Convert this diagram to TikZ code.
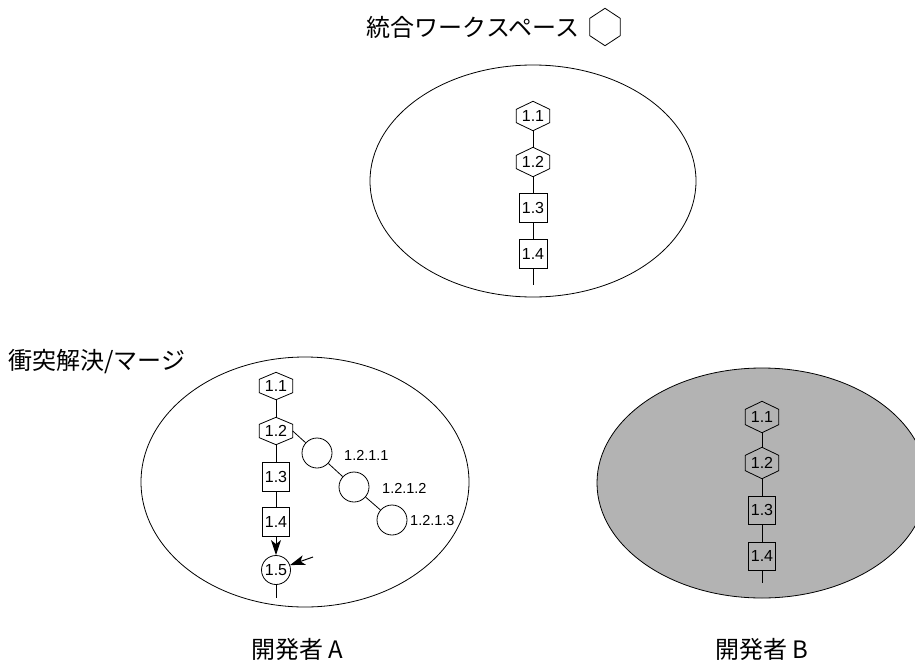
\documentclass[tikz,border=0pt]{standalone}
\usepackage{fontspec}
\setmainfont{Liberation Sans}
\newfontfamily\jpfont{Noto Sans CJK JP}
\usetikzlibrary{arrows.meta,shapes.geometric}
\definecolor{bgray}{RGB}{179,179,179}
\tikzset{
  ws/.style={ellipse, draw=black, line width=0.8pt, inner sep=0pt},
  numfont/.style={font=\fontsize{16}{16}\selectfont},
  hexbox/.style={rectangle, inner sep=0pt, minimum width=33pt, minimum height=29pt, numfont},
  sqbox/.style={rectangle, draw, line width=0.8pt, inner sep=0pt, minimum width=28pt, minimum height=29pt, numfont},
  circnode/.style={circle, draw, line width=0.8pt, inner sep=0pt, minimum size=30pt, numfont},
  link/.style={line width=0.8pt},
  jplabel/.style={font=\jpfont\fontsize{24}{24}\selectfont, inner sep=0pt},
  verlabel/.style={anchor=west, inner sep=0pt, font=\fontsize{14.5}{14.5}\selectfont},
  arr/.style={-{Stealth[length=15pt,width=10pt,inset=4pt]}, line width=1pt}
}
\newcommand\hexoutline[2]{\draw[link] (#1.north) -- ([yshift=-#2]#1.north east) -- ([yshift=#2]#1.south east) -- (#1.south) -- ([yshift=#2]#1.south west) -- ([yshift=-#2]#1.north west) -- cycle;}
\begin{document}
\begin{tikzpicture}[x=1pt,y=-1pt]
\useasboundingbox (0,0) rectangle (915,664);
\clip (0,0) rectangle (915,664);
% workspaces
\node[ws, minimum width=326pt, minimum height=232pt] (topws) at (533,181) {};
\node[ws, fill=bgray, minimum width=330pt, minimum height=230pt] (wsB) at (762,483) {};
\node[ws, minimum width=328pt, minimum height=250pt] (wsA) at (305,482) {};
% labels
\node[jplabel] (toplabel) at (473,27) {統合ワークスペース};
\node[hexbox, minimum width=30pt, minimum height=37pt] (legendhex) at (605,27) {};
\hexoutline{legendhex}{10pt}
\node[jplabel] (mergelabel) at (97,362) {衝突解決/マージ};
\node[jplabel] (devA) at (297,649) {開発者 A};
\node[jplabel] (devB) at (762,649) {開発者 B};
% integration chain
\node[hexbox] (t11) at (533,116) {1.1}; \hexoutline{t11}{8pt}
\node[hexbox] (t12) at (533,162) {1.2}; \hexoutline{t12}{8pt}
\node[sqbox] (t13) at (533,208) {1.3};
\node[sqbox] (t14) at (533,254) {1.4};
\coordinate (tend) at (533,285);
\draw[link] (t11) -- (t12) (t12) -- (t13) (t13) -- (t14) (t14) -- (tend);
% developer A chain
\node[hexbox, minimum height=27pt] (a11) at (276,386) {1.1}; \hexoutline{a11}{7pt}
\node[hexbox, minimum height=27pt] (a12) at (276,431) {1.2}; \hexoutline{a12}{7pt}
\node[sqbox, minimum width=27pt] (a13) at (276,477) {1.3};
\node[sqbox, minimum width=27pt] (a14) at (276,522) {1.4};
\node[circnode, minimum size=29pt] (a15) at (276,570) {1.5};
\coordinate (aend) at (276,598);
\coordinate (mergein) at (313,557);
\draw[link] (a11) -- (a12) (a12) -- (a13) (a13) -- (a14) (a15) -- (aend);
\draw[arr] (a14) -- (a15);
\draw[arr] (mergein) -- (a15);
% branch
\node[circnode] (c1) at (317,453) {};
\node[circnode] (c2) at (354,487) {};
\node[circnode] (c3) at (392,520) {};
\node[verlabel] (l1) at (344,455) {1.2.1.1};
\node[verlabel] (l2) at (382,488) {1.2.1.2};
\node[verlabel] (l3) at (410,520) {1.2.1.3};
\draw[link] (a12.east) -- (c1) (c1) -- (c2) (c2) -- (c3);
% developer B chain
\node[hexbox, minimum height=31pt] (b11) at (762,417) {1.1}; \hexoutline{b11}{8pt}
\node[hexbox, minimum height=31pt] (b12) at (762,463) {1.2}; \hexoutline{b12}{8pt}
\node[sqbox, minimum width=27pt, minimum height=28pt] (b13) at (762,510) {1.3};
\node[sqbox, minimum width=27pt, minimum height=28pt] (b14) at (762,556) {1.4};
\coordinate (bend) at (762,583);
\draw[link] (b11) -- (b12) (b12) -- (b13) (b13) -- (b14) (b14) -- (bend);
\end{tikzpicture}
\end{document}
